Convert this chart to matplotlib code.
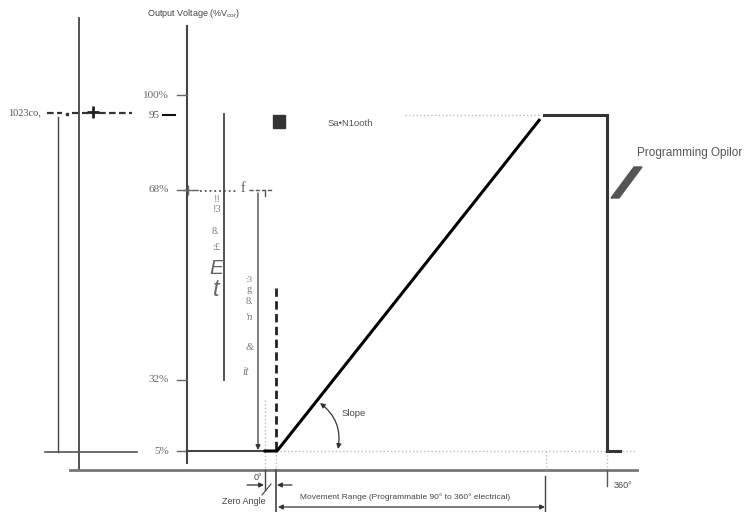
import matplotlib.pyplot as plt
from matplotlib.patches import FancyArrowPatch, Rectangle, Polygon

# transfer curve: electrical angle (deg) vs output (% of Vcc)
lead_deg = [-98, -13]
lead_pct = [5, 5]
ramp_deg = [-13, 0, 286]
ramp_pct = [5, 5, 93.6]
hold_deg = [291, 360, 360, 374]
hold_pct = [95, 95, 5, 5]
clamp_hi_deg = [140, 286]
clamp_lo_deg = [3, 393]
clamp_hi = 95
clamp_lo = 5

tick_labels = ['100%', '95', '68%', '32%', '5%']
tick_rows = [95, 115, 190, 380, 451]

SERIF = 'Liberation Serif'
SANS = 'Liberation Sans'
plt.rcParams['mathtext.fontset'] = 'custom'
plt.rcParams['mathtext.rm'] = SANS


def vline(ax, x, y0, y1, **kw):
    ax.plot([x, x], [y0, y1], **kw)


def hline(ax, y, x0, x1, **kw):
    ax.plot([x0, x1], [y, y], **kw)


def arrow(ax, p0, p1, style='-|>', **kw):
    ax.add_patch(FancyArrowPatch(p0, p1, arrowstyle=style, mutation_scale=7,
                                 lw=0.9, color='#333', shrinkA=0, shrinkB=0, **kw))


fig = plt.figure(figsize=(7.44, 5.12), dpi=100)
ax = fig.add_axes([0, 0, 1, 1])
ax.set_xlim(0, 744)
ax.set_ylim(512, 0)
ax.axis('off')

# curve axes: 0 deg at x=277px, 360 deg at 607px; 5% at y=451px, 95% at 115px
cv = fig.add_axes([0, 0, 1, 1])
cv.set_xlim((0 - 277) * 360 / 330, (744 - 277) * 360 / 330)
cv.set_ylim(5 - (512 - 451) * 90 / 336, 5 + 451 * 90 / 336)
cv.axis('off')
cv.patch.set_alpha(0)

# left frame lines
vline(ax, 79, 18, 470, color='#444', lw=1.3)
vline(ax, 58, 117, 452, color='#444', lw=1)
hline(ax, 452, 45, 137, color='#555', lw=1.2)
hline(ax, 470, 70, 637, color='#777', lw=2)
ax.text(8, 113, '1023co,', family=SERIF, fontsize=7.5, color='#555', va='center')
hline(ax, 113, 47, 62, color='#333', lw=1.6, dashes=(3, 1.5))
ax.plot([67], [114], 's', ms=1.5, color='#333')
hline(ax, 113, 72, 88, color='#333', lw=1.6, dashes=(3, 1.5))
ax.plot([93], [112], '+', ms=9, mew=2, color='#222')
hline(ax, 113, 99, 132, color='#333', lw=1.6, dashes=(3, 1.5))

# output voltage axis
ax.text(147, 14, 'Output Voltage (%V$_{\\mathrm{cor}}$)', family=SANS, fontsize=6.5,
        color='#444', va='center')
vline(ax, 187, 26, 463, color='#444', lw=1.5)
for lab, row in zip(tick_labels, tick_rows):
    if lab == '95':
        ax.text(160, row, lab, family=SERIF, fontsize=8, color='#555', ha='right', va='center')
        hline(ax, row, 163, 175, color='#111', lw=1.5)
    else:
        ax.text(169, row, lab, family=SERIF, fontsize=8, color='#666', ha='right', va='center')
        hline(ax, row, 177, 187, color='#666', lw=1)

# 68% bracket
ax.plot([188], [190], '+', ms=7, mew=1, color='#666')
hline(ax, 190, 193, 198, color='#666', lw=1)
hline(ax, 191, 200, 238, color='#555', lw=1.3, ls=':')
ax.text(243, 189, 'f', family=SERIF, fontsize=10, color='#555', ha='center', va='center')
hline(ax, 190, 249, 265, color='#555', lw=1, dashes=(3, 1.5))
vline(ax, 265, 190, 196, color='#555', lw=1)
hline(ax, 190, 268, 271, color='#555', lw=1)
vline(ax, 224, 114, 380, color='#444', lw=1.3)
arrow(ax, (258, 193), (258, 450))

# garbled side labels
for s, x, y, fs, st in [('!!', 217, 200, 7.5, 'normal'), ('!3', 217, 210, 7.5, 'normal'),
                        ('8.', 216, 231, 7.5, 'normal'), (':£', 216, 248, 7.5, 'normal'),
                        (':3', 249, 280, 6.5, 'normal'), ('g', 249, 290, 7.5, 'normal'),
                        ('8.', 250, 301, 7.5, 'normal'), ("'n", 250, 317, 7.5, 'italic'),
                        ('&', 250, 347, 7.5, 'italic'), ('it', 246, 372, 8.5, 'italic')]:
    ax.text(x, y, s, family=SERIF, fontsize=fs, style=st, color='#777', ha='center', va='center')
ax.text(216, 269, 'E', family=SANS, fontsize=15, style='italic', color='#666', ha='center', va='center')
ax.text(216, 290, 't', family=SANS, fontsize=17, style='italic', color='#666', ha='center', va='center')

# zero-angle marker and guides
ax.plot([275.5, 275.5], [288, 451], color='#222', lw=2, dashes=(3, 1.6))
vline(ax, 265, 400, 470, color='#bbb', lw=1, ls=':')
vline(ax, 276, 451, 470, color='#bbb', lw=1, ls=':')
vline(ax, 546, 451, 470, color='#bbb', lw=1, ls=':')
vline(ax, 607, 451, 470, color='#bbb', lw=1, ls=':')

ax.add_patch(Rectangle((273, 115), 12, 13, color='#333'))
ax.text(328, 124, 'Sa•N1ooth', family=SANS, fontsize=6.8, color='#555', va='center')

# transfer curve
cv.plot(clamp_hi_deg, [clamp_hi] * 2, color='#bbb', lw=1, ls=':')
cv.plot(clamp_lo_deg, [clamp_lo] * 2, color='#bbb', lw=1, ls=':')
cv.plot(lead_deg, lead_pct, color='#444', lw=1.5)
cv.plot(ramp_deg, ramp_pct, color='black', lw=2.2)
cv.plot(hold_deg, hold_pct, color='#333', lw=2.2, solid_joinstyle='miter')

# slope
ax.text(342, 413, 'Slope', family=SANS, fontsize=6.8, color='#444', va='center')
arrow(ax, (320, 403), (338, 449), style='<|-|>', connectionstyle='arc3,rad=-0.3')

# programming option
ax.text(637, 153, 'Programming Opilor', family=SANS, fontsize=8.5, color='#555', va='center')
ax.add_patch(Polygon([(611, 198), (619, 198), (642, 167), (634, 167)], color='#555'))

# bottom annotations
ax.text(258, 477, '0°', family=SANS, fontsize=6.5, color='#444', ha='center', va='center')
arrow(ax, (247, 485), (264, 485))
arrow(ax, (292, 485), (277, 485))
ax.plot([262, 271], [495, 484], color='#444', lw=0.8)
vline(ax, 265, 470, 490, color='#444', lw=1)
vline(ax, 276, 470, 512, color='#444', lw=1.2)
ax.text(244, 502, 'Zero Angle', family=SANS, fontsize=6.5, color='#444', ha='center', va='center')

arrow(ax, (278, 507), (545, 507), style='<|-|>')
vline(ax, 545, 476, 512, color='#444', lw=1)
ax.text(300, 497, 'Movement Range (Programmable 90° to 360° electrical)', family=SANS,
        fontsize=6, color='#444', va='center')

vline(ax, 607, 470, 486, color='#555', lw=1)
ax.text(614, 485, '360°', family=SANS, fontsize=6.5, color='#444', va='center')

fig.savefig('out.png', dpi=100)
